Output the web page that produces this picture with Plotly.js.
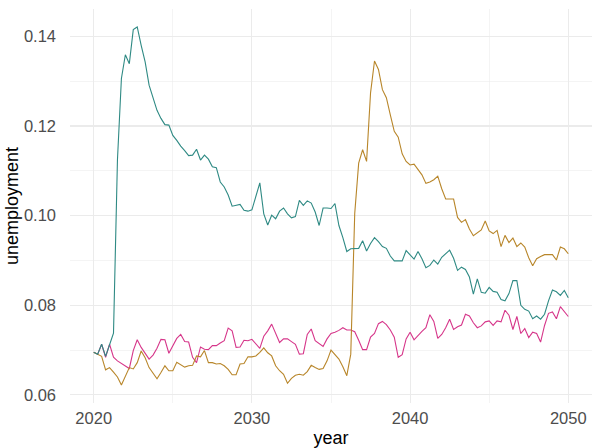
<!DOCTYPE html>
<html>
<head>
<meta charset="utf-8">
<script src="https://cdn.plot.ly/plotly-3.0.1.min.js"></script>
<style>html,body{margin:0;padding:0;background:#fff;}#chart{width:600px;height:448px;}</style>
</head>
<body>
<div id="chart"></div>
<script>
// quarterly time points 2020 .. 2050
var startYear = 2020;
var stepYears = 0.25;

var seriesTeal = [
0.0695,0.0691,0.0713,0.0686,0.0712,0.0738,0.1124,0.1306,0.1359,0.1339,
0.1415,0.1421,0.1380,0.1343,0.1291,0.1265,0.1235,0.1217,0.1203,0.1202,
0.1179,0.1168,0.1155,0.1145,0.1134,0.1135,0.1148,0.1124,0.1135,0.1126,
0.1109,0.1107,0.1075,0.1064,0.1046,0.1021,0.1023,0.1025,0.1012,0.1010,
0.1013,0.1042,0.1073,0.1004,0.0979,0.1001,0.0993,0.1010,0.1017,0.1004,
0.0995,0.0998,0.1034,0.1023,0.1033,0.1028,0.1008,0.0978,0.1017,0.1017,
0.1016,0.1027,0.0978,0.0951,0.0920,0.0926,0.0926,0.0927,0.0944,0.0921,
0.0938,0.0951,0.0942,0.0931,0.0927,0.0910,0.0899,0.0899,0.0899,0.0922,
0.0912,0.0903,0.0920,0.0904,0.0884,0.0889,0.0901,0.0892,0.0907,0.0915,
0.0923,0.0905,0.0878,0.0885,0.0880,0.0863,0.0825,0.0859,0.0829,0.0827,
0.0840,0.0831,0.0829,0.0813,0.0810,0.0826,0.0855,0.0855,0.0800,0.0791,
0.0787,0.0770,0.0776,0.0769,0.0780,0.0810,0.0834,0.0830,0.0822,0.0833,
0.0817];

var seriesGold = [
0.0695,0.0690,0.0686,0.0656,0.0661,0.0651,0.0640,0.0622,0.0640,0.0661,
0.0658,0.0672,0.0698,0.0683,0.0661,0.0648,0.0636,0.0650,0.0665,0.0654,
0.0654,0.0673,0.0668,0.0662,0.0665,0.0666,0.0687,0.0685,0.0699,0.0672,
0.0672,0.0669,0.0670,0.0665,0.0657,0.0645,0.0645,0.0669,0.0670,0.0685,
0.0685,0.0687,0.0695,0.0705,0.0694,0.0687,0.0665,0.0654,0.0646,0.0626,
0.0637,0.0644,0.0646,0.0644,0.0652,0.0666,0.0661,0.0657,0.0659,0.0676,
0.0700,0.0691,0.0680,0.0663,0.0643,0.0691,0.1005,0.1117,0.1147,0.1121,
0.1274,0.1345,0.1326,0.1281,0.1263,0.1225,0.1188,0.1175,0.1138,0.1121,
0.1113,0.1115,0.1102,0.1091,0.1072,0.1075,0.1080,0.1088,0.1060,0.1037,
0.1037,0.1037,0.0996,0.0985,0.0991,0.0970,0.0955,0.0961,0.0968,0.0988,
0.0966,0.0960,0.0967,0.0931,0.0956,0.0940,0.0950,0.0931,0.0939,0.0930,
0.0906,0.0888,0.0904,0.0909,0.0913,0.0913,0.0913,0.0901,0.0930,0.0926,
0.0915];

var seriesPink = [
0.0695,0.0691,0.0713,0.0684,0.0713,0.0684,0.0676,0.0670,0.0665,0.0659,
0.0699,0.0723,0.0706,0.0693,0.0680,0.0689,0.0704,0.0724,0.0723,0.0693,
0.0709,0.0726,0.0735,0.0719,0.0718,0.0684,0.0672,0.0707,0.0702,0.0701,
0.0710,0.0710,0.0716,0.0721,0.0749,0.0743,0.0706,0.0707,0.0722,0.0721,
0.0724,0.0715,0.0704,0.0731,0.0743,0.0758,0.0737,0.0717,0.0725,0.0725,
0.0719,0.0713,0.0691,0.0692,0.0735,0.0747,0.0721,0.0715,0.0708,0.0725,
0.0737,0.0740,0.0744,0.0750,0.0745,0.0745,0.0741,0.0722,0.0701,0.0701,
0.0729,0.0737,0.0759,0.0764,0.0757,0.0745,0.0729,0.0684,0.0690,0.0725,
0.0740,0.0723,0.0733,0.0742,0.0750,0.0779,0.0764,0.0726,0.0735,0.0750,
0.0769,0.0746,0.0752,0.0756,0.0780,0.0776,0.0761,0.0750,0.0754,0.0763,
0.0765,0.0755,0.0765,0.0763,0.0789,0.0778,0.0746,0.0775,0.0737,0.0748,
0.0728,0.0740,0.0737,0.0718,0.0755,0.0782,0.0785,0.0770,0.0797,0.0785,
0.0775];

var xTickVals = [2020, 2030, 2040, 2050];
var xTickText = ['2020', '2030', '2040', '2050'];
var yTickVals = [0.06, 0.08, 0.10, 0.12, 0.14];
var yTickText = ['0.06', '0.08', '0.10', '0.12', '0.14'];

function years(n) {
  var out = [];
  for (var i = 0; i < n; i++) out.push(startYear + i * stepYears);
  return out;
}

var traces = [
  {x: years(seriesPink.length), y: seriesPink, mode: 'lines', line: {color: '#d6368a', width: 1.1}},
  {x: years(seriesGold.length), y: seriesGold, mode: 'lines', line: {color: '#b8862a', width: 1.1}},
  {x: years(seriesTeal.length), y: seriesTeal, mode: 'lines', line: {color: '#2f8a84', width: 1.1}}
];

var layout = {
  width: 600, height: 448,
  margin: {l: 70, r: 8, t: 9, b: 45},
  paper_bgcolor: '#ffffff', plot_bgcolor: '#ffffff',
  showlegend: false,
  font: {family: 'Liberation Sans, Arial, sans-serif', color: '#4d4d4d', size: 16},
  xaxis: {
    range: [2018.5, 2051.5],
    tickvals: xTickVals, ticktext: xTickText,
    showgrid: true, gridcolor: '#ebebeb', gridwidth: 1.1,
    minor: {tickvals: [2025, 2035, 2045], showgrid: true, gridcolor: '#ebebeb', gridwidth: 0.55},
    zeroline: false, showline: false, ticks: '',
    tickfont: {size: 16.5, color: '#4d4d4d'},
    ticklabelstandoff: 3,
    title: {text: 'year', font: {size: 18, color: '#000000'}, standoff: 6}
  },
  yaxis: {
    range: [0.0582, 0.1461],
    tickvals: yTickVals, ticktext: yTickText,
    showgrid: true, gridcolor: '#ebebeb', gridwidth: 1.1,
    minor: {tickvals: [0.07, 0.09, 0.11, 0.13], showgrid: true, gridcolor: '#ebebeb', gridwidth: 0.55},
    zeroline: false, showline: false, ticks: '',
    tickfont: {size: 16.5, color: '#4d4d4d'},
    ticklabelstandoff: 13,
    title: {text: 'unemployment', font: {size: 18, color: '#000000'}, standoff: 0}
  }
};

Plotly.newPlot('chart', traces, layout, {displayModeBar: false, staticPlot: true});
</script>
</body>
</html>
